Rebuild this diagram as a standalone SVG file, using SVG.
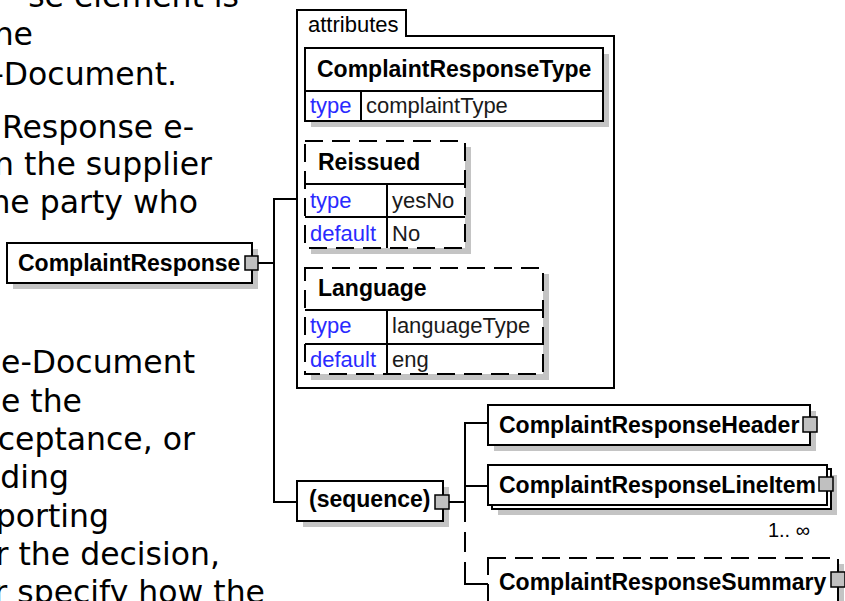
<svg xmlns="http://www.w3.org/2000/svg" width="845" height="601" viewBox="0 0 845 601">
<style>
.b{fill:#fff;stroke:#000;stroke-width:2}
.d{stroke-dasharray:18 9}
.sh{fill:#c4c4c4}
.sq{fill:#c0c0c0;stroke:#000;stroke-width:1.5}
.el{font:bold 23px "Liberation Sans",Arial,sans-serif;fill:#000}
.t{font:22px "Liberation Sans",Arial,sans-serif}
.k{fill:#2a2aff}
.v{fill:#1a1a1a}
.p{font:31.5px "DejaVu Sans",Verdana,sans-serif;fill:#000;text-anchor:end}
.ln{fill:none;stroke:#000;stroke-width:2}
</style>
<rect width="845" height="601" fill="#fff"/>
<g id="description">
<text class="p" x="239" y="7">se element is</text>
<text class="p" x="33" y="45">ne</text>
<text class="p" x="177" y="85">-Document.</text>
<text class="p" x="194" y="138">Response e-</text>
<text class="p" x="212" y="175">n the supplier</text>
<text class="p" x="198" y="213">ne party who</text>
<text class="p" x="195" y="373">e-Document</text>
<text class="p" x="82" y="412">e the</text>
<text class="p" x="195" y="450">ceptance, or</text>
<text class="p" x="69" y="488">ding</text>
<text class="p" x="109" y="527">porting</text>
<text class="p" x="220" y="565">r the decision,</text>
<text class="p" x="265" y="603">r specify how the</text>
</g>
<g id="connectors">
<path class="ln" d="M258,263 H274"/>
<path class="ln" d="M297,199 H274 V502 H297"/>
<path class="ln" d="M449,502 H465"/>
<path class="ln" d="M465,502 V423 H488"/>
<path class="ln" d="M465,486 H488"/>
<path class="ln" d="M465,502 V574" stroke-dasharray="20 10"/>
<path class="ln" d="M465,572 V584 H488"/>
</g>
<g id="attributes">
<path class="b" d="M297,388 V10 H406 V36 H614 V388 Z"/>
<text class="t" x="308" y="32" font-style="italic" fill="#000">attributes</text>
</g>
<g id="attr-ComplaintResponseType">
<rect class="sh" x="311" y="54" width="298" height="73"/>
<rect class="b" x="305" y="48" width="298" height="73"/>
<path class="ln" d="M305,91 H603 M361,91 V121"/>
<text class="el" x="317" y="77">ComplaintResponseType</text>
<text class="t k" x="310" y="113">type</text>
<text class="t v" x="366" y="113">complaintType</text>
</g>
<g id="attr-Reissued">
<rect class="sh" x="311" y="147" width="160" height="107"/>
<rect class="b d" x="305" y="141" width="160" height="107"/>
<path class="ln" d="M305,184 H465 M305,217 H465 M387,184 V248"/>
<text class="el" x="318" y="170">Reissued</text>
<text class="t k" x="310" y="208">type</text>
<text class="t v" x="392" y="208">yesNo</text>
<text class="t k" x="310" y="241">default</text>
<text class="t v" x="392" y="241">No</text>
</g>
<g id="attr-Language">
<rect class="sh" x="311" y="274" width="238" height="106"/>
<rect class="b d" x="305" y="268" width="238" height="106"/>
<path class="ln" d="M305,310 H543 M305,344 H543 M387,310 V374"/>
<text class="el" x="318" y="296">Language</text>
<text class="t k" x="310" y="333">type</text>
<text class="t v" x="392" y="333">languageType</text>
<text class="t k" x="310" y="367">default</text>
<text class="t v" x="392" y="367">eng</text>
</g>
<g id="ComplaintResponse">
<rect class="sh" x="13" y="249" width="245" height="40"/>
<rect class="b" x="7" y="243" width="245" height="40"/>
<text class="el" x="18" y="271">ComplaintResponse</text>
<rect class="sq" x="245" y="256" width="13" height="14"/>
</g>
<g id="sequence">
<rect class="sh" x="303" y="487" width="146" height="40"/>
<rect class="b" x="297" y="481" width="146" height="40"/>
<text class="el" x="309" y="507">(sequence)</text>
<rect class="sq" x="435" y="495" width="14" height="14"/>
</g>
<g id="ComplaintResponseHeader">
<rect class="sh" x="494" y="411" width="322" height="40"/>
<rect class="b" x="488" y="405" width="322" height="40"/>
<text class="el" x="499" y="433">ComplaintResponseHeader</text>
<rect class="sq" x="803" y="417" width="14" height="15"/>
</g>
<g id="ComplaintResponseLineItem">
<rect class="sh" x="498" y="475" width="339" height="40"/>
<rect class="b" x="492" y="469" width="339" height="40"/>
<rect class="b" x="488" y="465" width="339" height="40"/>
<text class="el" x="499" y="493">ComplaintResponseLineItem</text>
<rect class="sq" x="819" y="477" width="14" height="14"/>
<text x="810" y="537" font-family="Liberation Sans,Arial,sans-serif" font-size="20" text-anchor="end" fill="#000">1.. ∞</text>
</g>
<g id="ComplaintResponseSummary">
<rect class="sh" x="494" y="564" width="350" height="50"/>
<rect class="b d" x="488" y="558" width="350" height="50"/>
<text class="el" x="499" y="590">ComplaintResponseSummary</text>
<rect class="sq" x="831" y="572" width="14" height="15"/>
</g>
</svg>
